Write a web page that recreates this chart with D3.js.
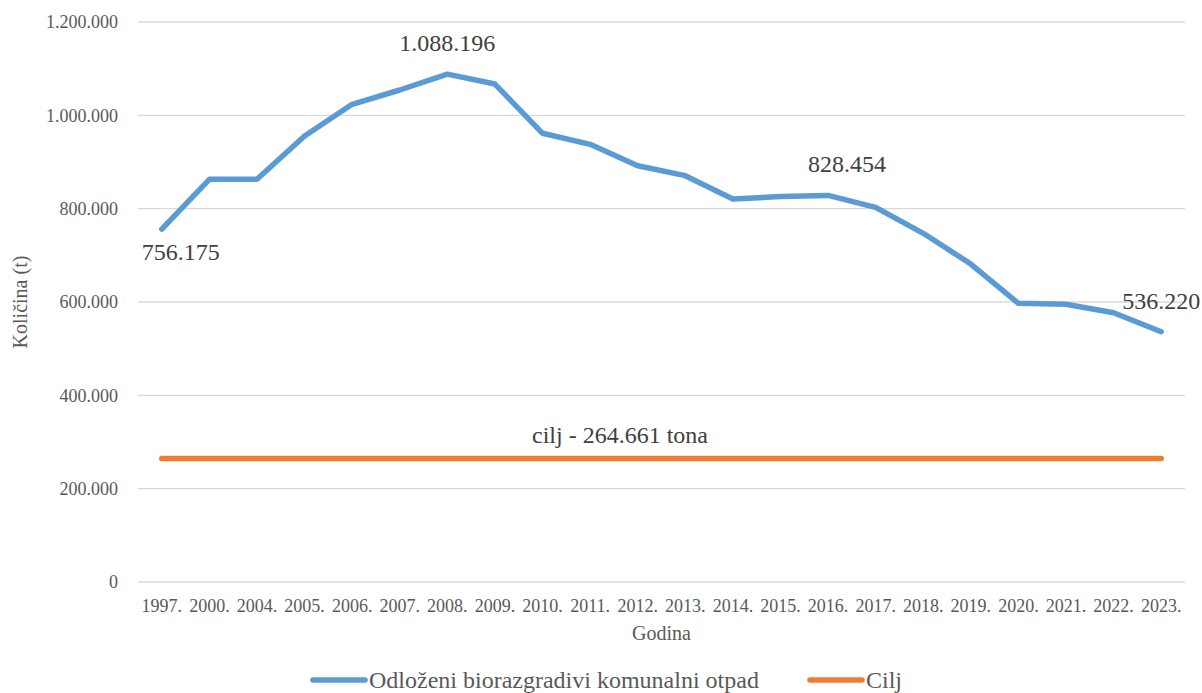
<!DOCTYPE html>
<html>
<head>
    <meta charset="utf-8">
    <title>Odloženi biorazgradivi komunalni otpad</title>
    <script src="https://d3js.org/d3.v7.min.js"></script>
    <style>
        body { margin: 0; background: #fff; }
        svg, svg text { font-family: "Liberation Serif", "Times New Roman", Times, "DejaVu Serif", serif !important; }
    </style>
</head>
<body>
    <svg width="1202" height="693"></svg>

    <script>
        // data
        var years = ["1997.", "2000.", "2004.", "2005.", "2006.", "2007.", "2008.", "2009.", "2010.", "2011.", "2012.",
            "2013.", "2014.", "2015.", "2016.", "2017.", "2018.", "2019.", "2020.", "2021.", "2022.", "2023."];
        var waste = [756175, 862900, 862900, 955700, 1023600, 1054300, 1088196, 1067000, 961500, 937900, 892100,
            870700, 820700, 826000, 828454, 802900, 747200, 681400, 597100, 595000, 577100, 536220];
        var target = 264661;
        var yTicks = [0, 200000, 400000, 600000, 800000, 1000000, 1200000];
        var labelledYears = ["1997.", "2008.", "2016.", "2023."];

        var svg = d3.select("svg"),
            width = +svg.attr("width"),
            height = +svg.attr("height");

        var margin = {top: 22, right: 17, bottom: 111, left: 138};
        var innerW = width - margin.left - margin.right,
            innerH = height - margin.top - margin.bottom;

        var fmt = function(v) {
            return v === 0 ? "0" : d3.format(",")(v).replace(/,/g, ".");
        };

        var x = d3.scaleBand()
            .domain(years)
            .range([margin.left, margin.left + innerW]);

        var y = d3.scaleLinear()
            .domain([0, 1200000])
            .range([margin.top + innerH, margin.top]);

        var cx = function(d) { return x(d) + x.bandwidth() / 2; };

        // grid lines
        svg.append("g")
            .selectAll("line")
            .data(yTicks)
            .enter().append("line")
            .attr("x1", margin.left)
            .attr("x2", margin.left + innerW)
            .attr("y1", function(d) { return y(d); })
            .attr("y2", function(d) { return y(d); })
            .attr("stroke", "#d9d9d9")
            .attr("stroke-width", 1.3);

        // y axis labels
        var yAxis = svg.append("g")
            .attr("transform", "translate(" + (margin.left - 17) + ",0)")
            .call(d3.axisLeft(y).tickValues(yTicks).tickFormat(fmt).tickSize(0));
        yAxis.attr("font-family", null);
        yAxis.select(".domain").remove();
        yAxis.selectAll("text")
            .attr("font-size", "18px")
            .attr("fill", "#595959")
            .attr("dy", "0.32em");

        // x axis labels
        var xAxis = svg.append("g")
            .attr("transform", "translate(0," + (margin.top + innerH) + ")")
            .call(d3.axisBottom(x).tickSize(0));
        xAxis.attr("font-family", null);
        xAxis.select(".domain").remove();
        xAxis.selectAll("text")
            .attr("font-size", "18px")
            .attr("fill", "#595959")
            .attr("y", 30)
            .attr("dy", 0);

        // axis titles
        svg.append("text")
            .attr("x", margin.left + innerW / 2)
            .attr("y", 640)
            .attr("text-anchor", "middle")
            .attr("font-size", "20px")
            .attr("fill", "#595959")
            .text("Godina");

        svg.append("text")
            .attr("transform", "translate(27," + (margin.top + innerH / 2) + ") rotate(-90)")
            .attr("text-anchor", "middle")
            .attr("font-size", "20px")
            .attr("fill", "#595959")
            .text("Količina (t)");

        // target line
        var targetLine = d3.line()
            .x(function(d) { return cx(d); })
            .y(function() { return y(target); });

        svg.append("path")
            .datum(years)
            .attr("fill", "none")
            .attr("stroke", "#ed7d31")
            .attr("stroke-width", 5.5)
            .attr("stroke-linecap", "round")
            .attr("d", targetLine);

        svg.append("text")
            .attr("x", 620)
            .attr("y", y(target) - 15)
            .attr("text-anchor", "middle")
            .attr("font-size", "24px")
            .attr("fill", "#404040")
            .text("cilj - " + fmt(target) + " tona");

        // waste line
        var line = d3.line()
            .x(function(d, i) { return cx(years[i]); })
            .y(function(d) { return y(d); });

        svg.append("path")
            .datum(waste)
            .attr("fill", "none")
            .attr("stroke", "#5b9bd5")
            .attr("stroke-width", 5.5)
            .attr("stroke-linejoin", "round")
            .attr("stroke-linecap", "round")
            .attr("d", line);

        // data labels
        svg.append("g")
            .selectAll("text")
            .data(labelledYears)
            .enter().append("text")
            .attr("x", function(d, i) { return cx(d) + (i === 0 || i === 2 ? 19 : 0); })
            .attr("y", function(d, i) {
                var v = waste[years.indexOf(d)];
                return i === 0 ? y(v) + 31 : y(v) - 23;
            })
            .attr("text-anchor", "middle")
            .attr("font-size", "24px")
            .attr("fill", "#404040")
            .text(function(d) { return fmt(waste[years.indexOf(d)]); });

        // legend
        var legend = svg.append("g").attr("class", "legend");
        var items = [
            {name: "Odloženi biorazgradivi komunalni otpad", color: "#5b9bd5", x: 313},
            {name: "Cilj", color: "#ed7d31", x: 810}
        ];
        items.forEach(function(it) {
            legend.append("line")
                .attr("x1", it.x)
                .attr("x2", it.x + 52)
                .attr("y1", 680)
                .attr("y2", 680)
                .attr("stroke", it.color)
                .attr("stroke-width", 5.5)
                .attr("stroke-linecap", "round");
            legend.append("text")
                .attr("x", it.x + 56)
                .attr("y", 688)
                .attr("font-size", "24px")
                .attr("fill", "#595959")
                .text(it.name);
        });
    </script>
</body>
</html>
